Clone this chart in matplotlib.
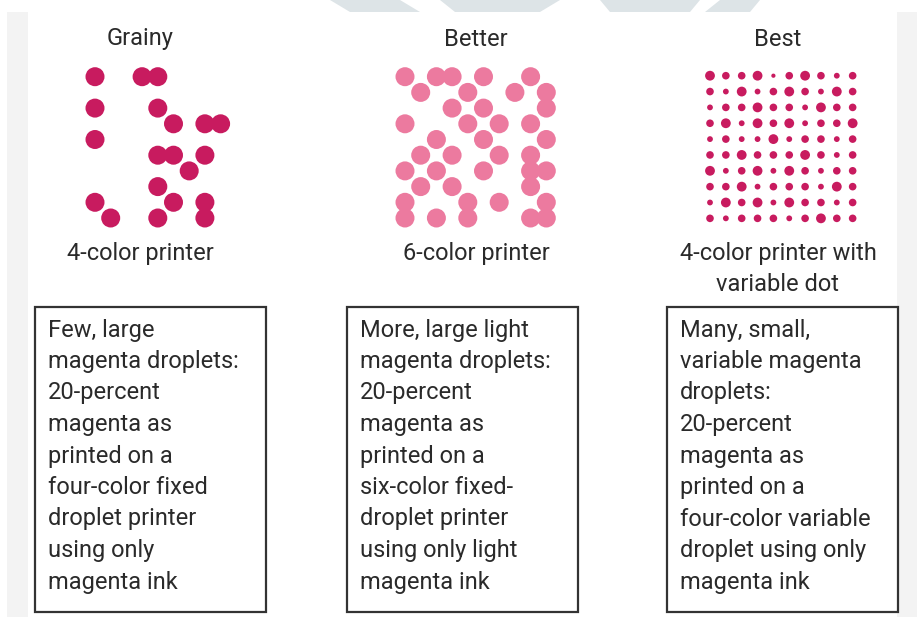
import matplotlib.pyplot as plt
from matplotlib.patches import Circle, Rectangle, Polygon

W, H = 917, 617
MAGENTA = '#C81B5F'
LIGHT_MAGENTA = '#EC7A9F'
FONT = ['Roboto', 'DejaVu Sans']

headers = ["Grainy", "Better", "Best"]
subtitles = ["4-color printer", "6-color printer", "4-color printer with\nvariable dot"]
box_texts = [
    ["Few, large", "magenta droplets:", "20-percent", "magenta as",
     "printed on a", "four-color fixed", "droplet printer", "using only",
     "magenta ink"],
    ["More, large light", "magenta droplets:", "20-percent", "magenta as",
     "printed on a", "six-color fixed-", "droplet printer", "using only light",
     "magenta ink"],
    ["Many, small,", "variable magenta", "droplets:", "20-percent",
     "magenta as", "printed on a", "four-color variable", "droplet using only",
     "magenta ink"],
]

# (column, row) cells of the droplet grids
grainy_cells = [(0, 0), (3, 0), (4, 0), (0, 2), (4, 2), (5, 3), (7, 3), (8, 3),
                (0, 4), (4, 5), (5, 5), (7, 5), (6, 6), (4, 7), (0, 8), (5, 8),
                (7, 8), (1, 9), (4, 9), (7, 9)]
better_cells = [(0, 0), (2, 0), (3, 0), (5, 0), (8, 0),
                (1, 1), (4, 1), (7, 1), (9, 1),
                (3, 2), (5, 2), (9, 2),
                (0, 3), (4, 3), (6, 3), (8, 3),
                (2, 4), (5, 4), (9, 4),
                (1, 5), (3, 5), (6, 5), (8, 5),
                (0, 6), (2, 6), (5, 6), (8, 6), (9, 6),
                (1, 7), (3, 7), (8, 7),
                (0, 8), (4, 8), (6, 8), (9, 8),
                (0, 9), (2, 9), (4, 9), (8, 9), (9, 9)]
# dot size level per cell of the 10x10 variable-dot grid (1 tiny .. 4 large)
best_sizes = [
    [4, 3, 3, 4, 1, 3, 4, 3, 2, 3],
    [3, 2, 4, 2, 3, 4, 3, 2, 4, 3],
    [2, 3, 3, 4, 3, 3, 2, 4, 3, 3],
    [3, 4, 2, 4, 3, 4, 2, 3, 3, 4],
    [2, 3, 2, 2, 4, 2, 3, 3, 2, 3],
    [3, 3, 4, 3, 3, 3, 4, 3, 2, 3],
    [4, 2, 3, 4, 2, 4, 3, 2, 3, 3],
    [3, 3, 4, 2, 3, 3, 3, 2, 4, 3],
    [2, 4, 3, 4, 2, 4, 3, 3, 2, 3],
    [3, 2, 3, 3, 3, 2, 3, 4, 3, 3],
]
size_diam = {1: 4.2, 2: 5.8, 3: 7.6, 4: 9.8}

fig = plt.figure(figsize=(W / 100, H / 100), dpi=100)
ax = fig.add_axes([0, 0, 1, 1])
ax.set_xlim(0, W)
ax.set_ylim(H, 0)
ax.axis('off')

# faint watermark at the top and side strips
for pts in [[(330, 0), (400, 0), (420, 12), (350, 12)],
            [(440, 0), (560, 0), (540, 12), (455, 12)],
            [(600, 0), (700, 0), (690, 12), (610, 12)],
            [(720, 0), (760, 0), (750, 12), (705, 12)]]:
    ax.add_patch(Polygon(pts, closed=True, color='#DDE4E7', lw=0))
ax.add_patch(Rectangle((7, 12), 21, H - 12, color='#F3F3F3', lw=0))
ax.add_patch(Rectangle((897, 12), 20, H - 12, color='#F3F3F3', lw=0))

step = 15.7
for cells, x0, color in [(grainy_cells, 95, MAGENTA), (better_cells, 405, LIGHT_MAGENTA)]:
    for c, r in cells:
        ax.add_patch(Circle((x0 + c * step, 76.7 + r * step), 9.5, color=color, lw=0))

for r, row in enumerate(best_sizes):
    for c, lvl in enumerate(row):
        ax.add_patch(Circle((710 + c * 15.85, 75.7 + r * 15.85), size_diam[lvl] / 2,
                            color=MAGENTA, lw=0))

centers = [140, 476, 778]
box_left = [35, 347, 667]
box_w = 231
for i in range(3):
    ax.text(centers[i], 39, headers[i], ha='center', va='center', fontsize=17,
            family=FONT, color='#2A2A2A')
    ax.text(centers[i], 242, subtitles[i], ha='center', va='top', fontsize=17,
            family=FONT, color='#2A2A2A', linespacing=1.42)
    ax.add_patch(Rectangle((box_left[i], 307), box_w, 305, fill=False,
                           edgecolor='#333333', lw=1.6))
    for j, line in enumerate(box_texts[i]):
        ax.text(box_left[i] + 13, 330 + j * 31.5, line, ha='left', va='center',
                fontsize=17, family=FONT, color='#2A2A2A')

fig.savefig('out.png', dpi=100, facecolor='white')
